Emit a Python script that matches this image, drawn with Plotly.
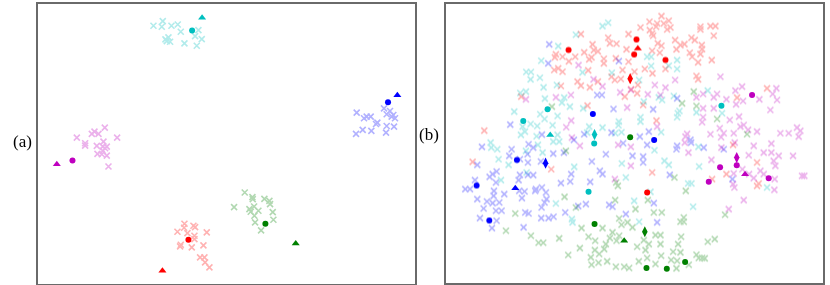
import plotly.graph_objects as go

# ---------------- Panel (a) data (embedding units) ----------------
a_cyan_x = [460, 488, 485, 514, 533, 542, 505, 500, 510, 553, 590, 595, 585, 605, 496]
a_cyan_y = [77, 63, 80, 77, 73, 95, 112, 123, 125, 130, 137, 90, 108, 117, 118]
a_blue_x = [1070, 1092, 1100, 1112, 1132, 1068, 1088, 1114, 1152, 1170, 1160, 1180, 1175, 1185, 1160, 1182, 1158, 1128]
a_blue_y = [338, 355, 350, 350, 368, 402, 390, 393, 325, 333, 343, 345, 350, 355, 378, 380, 398, 372]
a_mag_x = [230, 255, 255, 275, 283, 295, 314, 351, 290, 310, 308, 320, 292, 308, 305, 320, 325, 315]
a_mag_y = [413, 430, 437, 402, 395, 402, 383, 413, 438, 425, 440, 440, 462, 453, 463, 467, 500, 445]
a_red_x = [553, 580, 585, 532, 562, 583, 583, 620, 542, 575, 610, 600, 613, 615, 628, 552, 540]
a_red_y = [672, 678, 682, 696, 700, 708, 718, 698, 735, 743, 737, 773, 773, 788, 803, 684, 740]
a_green_x = [734, 757, 758, 702, 793, 808, 810, 818, 748, 762, 775, 763, 765, 783, 820, 752]
a_green_y = [578, 592, 598, 622, 597, 603, 613, 637, 628, 620, 633, 648, 668, 692, 660, 636]

# circles and triangles per class, order: red, green, blue, cyan, magenta
a_circ_x = [565, 796, 1164, 576, 217]
a_circ_y = [720, 672, 307, 91, 482]
a_tri_x = [487, 887, 1192, 606, 170]
a_tri_y = [813, 731, 286, 53, 493]

# ---------------- Panel (b) data ----------------
b_red_x = [755, 719, 742, 739, 762, 777, 782, 772, 720, 727, 730, 692, 872, 872, 902, 917, 912, 796, 845, 855,
           812, 824, 800, 876, 877, 744, 755, 727, 750, 840, 847, 872, 906, 865, 705, 728, 767, 674, 860, 865,
           684, 682, 1072, 982, 700, 740,
           513, 595, 656, 600, 620, 548, 552, 523, 564, 438, 435, 458, 496, 477, 538, 545, 582, 582, 618, 650,
           656, 433, 445, 458, 535, 605, 615, 633, 638, 503, 513, 540, 564, 453, 664, 645, 334, 533, 223,
           188, 424, 970, 727, 907, 950, 1042, 1042, 1047]
b_red_y = [48, 65, 70, 80, 70, 62, 82, 88, 90, 100, 107, 82, 80, 88, 78, 78, 107, 120, 113, 120,
           135, 132, 148, 135, 147, 130, 137, 152, 158, 158, 170, 162, 180, 187, 207, 220, 207, 215, 228, 238,
           255, 280, 265, 293, 315, 362,
           102, 113, 102, 130, 131, 133, 150, 157, 154, 163, 172, 170, 170, 184, 178, 172, 176, 190, 175, 148,
           185, 210, 205, 215, 211, 230, 240, 237, 210, 245, 257, 262, 245, 258, 268, 290, 290, 317, 392,
           486, 508, 435, 518, 538, 523, 488, 558, 551]

b_cyan_x = [712, 724, 724, 777, 802, 802, 688, 702, 747, 757, 792, 804, 809, 802, 692, 692, 894, 860, 937, 754,
            578, 595, 498, 445, 394, 349, 363, 362, 390, 518, 606, 401, 441, 331, 348, 405, 463, 456, 480, 520,
            313, 391, 404, 443, 362, 382, 338, 428, 538, 578, 627, 626, 635, 616, 532, 345, 380, 443, 333,
            242, 244, 262, 266, 296, 348, 350, 384, 398, 273, 438, 486, 488, 493, 636, 648, 673, 430, 448,
            734, 764, 777, 866, 868, 835, 845, 722, 850, 688, 1072]
b_cyan_y = [170, 170, 198, 197, 180, 207, 240, 305, 292, 300, 288, 340, 333, 352, 352, 365, 272, 337, 340, 397,
            78, 68, 104, 138, 182, 216, 216, 238, 233, 217, 218, 262, 255, 279, 275, 296, 293, 308, 320, 325,
            335, 343, 357, 348, 372, 378, 380, 376, 380, 383, 365, 376, 397, 400, 398, 395, 409, 405, 405,
            428, 443, 448, 478, 495, 453, 518, 435, 458, 541, 611, 658, 668, 501, 491, 533, 603, 425, 425,
            451, 483, 495, 441, 500, 551, 551, 576, 621, 666, 563]

b_blue_x = [730, 802, 717, 842,
            418, 415, 627, 562, 576, 611, 301, 396, 523, 492,
            216, 305, 298, 356, 353, 330, 370, 430, 462, 354, 393, 202, 260, 248, 195, 166, 180, 239, 258, 283,
            252, 251, 231, 248, 268, 202, 221, 258, 275, 210, 260, 246, 330, 354, 370, 326, 328, 344, 336, 378,
            376, 396, 408, 410, 404, 395, 346, 356, 394, 416, 431, 341, 453, 484, 481, 466, 505, 528, 541, 546,
            570, 578, 588, 598, 608, 648,
            712, 700, 802, 800, 882, 942, 968, 780, 732, 742, 844,
            605, 690, 668, 700, 640]
b_blue_y = [328, 295, 395, 420,
            133, 190, 183, 285, 285, 327, 374, 404, 403, 420,
            441, 448, 468, 433, 463, 478, 443, 461, 458, 488, 485, 495, 515, 523, 541, 568, 568, 531, 548, 583,
            573, 588, 605, 610, 608, 598, 626, 633, 633, 655, 663, 685, 525, 525, 526, 541, 573, 575, 595, 568,
            573, 563, 578, 598, 608, 623, 638, 641, 655, 655, 651, 683, 550, 523, 545, 638, 619, 613, 546, 485,
            513, 523, 463, 615, 621, 643,
            435, 488, 438, 448, 443, 448, 538, 525, 610, 668, 428,
            398, 410, 468, 470, 430]

b_mag_x = [796, 932, 735, 767, 714, 752, 880, 860, 912, 922, 950, 977, 997, 1100, 1089, 1102, 1049, 1000, 979, 912,
           880, 880, 877, 960, 988, 1082, 742, 930, 992, 1002, 1015, 972, 942, 934, 902, 832, 827, 1042, 1112,
           1137, 1162, 1172, 1167,
           506, 551, 578, 631, 663, 438, 483, 348, 652, 484, 469, 486,
           510, 625, 663, 615, 663,
           825, 836, 905, 935, 975, 1032, 1017, 1062, 1085, 1107, 1092, 1097, 1150, 1085, 972, 998, 1018, 1032,
           1052, 1062, 1095, 1094, 970, 974, 1002, 957, 1177, 1184]
b_mag_y = [240, 230, 255, 263, 283, 285, 282, 292, 292, 282, 298, 272, 260, 265, 282, 300, 298, 303, 313, 325,
           325, 352, 367, 360, 350, 330, 380, 385, 380, 375, 390, 400, 400, 412, 403, 402, 410, 395, 400,
           400, 383, 393, 410,
           195, 238, 259, 277, 270, 292, 285, 298, 323, 362, 382, 413,
           438, 435, 498, 538, 441,
           428, 458, 480, 443, 428, 438, 466, 458, 458, 468, 483, 498, 468, 431, 521, 508, 523, 535,
           513, 523, 538, 570, 553, 563, 601, 628, 528, 528]

b_green_x = [852, 817, 860, 922, 1012, 426,
             468, 316, 288, 363, 386, 400, 448, 464, 498, 515, 510, 475, 543, 545, 566, 568, 578, 583, 588, 556,
             555, 536, 600, 608, 620, 628, 635, 653, 668, 628, 616, 619, 624, 618, 643, 658, 592,
             794, 828, 714, 677, 732, 756, 822, 812, 822, 946, 894, 915, 814, 805, 737, 752, 702, 717, 752, 682,
             707, 812, 790, 754, 712, 687, 784, 802, 737, 800, 860, 867, 877, 885, 837]
b_green_y = [275, 310, 318, 357, 403, 320,
             453, 641, 693, 708, 729, 729, 716, 591, 623, 685, 745, 766, 773, 795, 789, 763, 685, 748, 733, 723,
             751, 711, 715, 698, 723, 708, 675, 668, 683, 656, 601, 548, 558, 801, 801, 805, 785,
             533, 573, 601, 628, 638, 638, 653, 666, 666, 645, 726, 718, 711, 733, 706, 706, 721, 733, 733, 741,
             751, 758, 756, 768, 775, 785, 781, 783, 793, 806, 765, 775, 775, 776, 795]

# class prototypes in (b)
b_red_circ_x = [476, 680, 673, 767, 712]
b_red_circ_y = [150, 118, 163, 180, 578]
b_green_circ_x = [661, 554, 710, 771, 826]
b_green_circ_y = [412, 673, 805, 807, 787]
b_blue_circ_x = [549, 733, 321, 200, 238]
b_blue_circ_y = [342, 420, 480, 557, 662]
b_cyan_circ_x = [413, 340, 553, 536, 935]
b_cyan_circ_y = [328, 363, 431, 576, 317]
b_mag_circ_x = [1027, 931, 897, 981, 1077]
b_mag_circ_y = [285, 502, 546, 496, 535]

# triangles and diamonds, order: red, green, blue, cyan, magenta
b_tri_x = [684, 643, 316, 421, 1006]
b_tri_y = [145, 723, 565, 405, 523]
b_dia_x = [661, 705, 407, 554, 981]
b_dia_y = [236, 696, 490, 404, 473]

# ---------------- styling ----------------
COL = {"red": "rgb(255,0,0)", "green": "rgb(0,128,0)", "blue": "rgb(0,0,255)",
       "cyan": "rgb(0,191,191)", "mag": "rgb(191,0,191)"}
ORDER = ["red", "green", "blue", "cyan", "mag"]

fig = go.Figure()


def add_x(xs, ys, col, ax):
    fig.add_trace(go.Scatter(
        x=xs, y=ys, mode="markers", xaxis="x" + ax, yaxis="y" + ax, opacity=0.3,
        marker=dict(symbol="x-thin", size=6, line=dict(color=col, width=1.6)),
        showlegend=False, hoverinfo="skip"))


def add_sym(xs, ys, cols, sym, size, ax):
    fig.add_trace(go.Scatter(
        x=xs, y=ys, mode="markers", xaxis="x" + ax, yaxis="y" + ax,
        marker=dict(symbol=sym, size=size, color=cols, line=dict(width=0)),
        showlegend=False, hoverinfo="skip"))


# panel (a)
add_x(a_red_x, a_red_y, COL["red"], "")
add_x(a_green_x, a_green_y, COL["green"], "")
add_x(a_blue_x, a_blue_y, COL["blue"], "")
add_x(a_cyan_x, a_cyan_y, COL["cyan"], "")
add_x(a_mag_x, a_mag_y, COL["mag"], "")
cols5 = [COL[c] for c in ORDER]
add_sym(a_circ_x, a_circ_y, cols5, "circle", 6, "")
add_sym(a_tri_x, a_tri_y, cols5, "triangle-up", 7, "")

# panel (b)
add_x(b_red_x, b_red_y, COL["red"], "2")
add_x(b_cyan_x, b_cyan_y, COL["cyan"], "2")
add_x(b_blue_x, b_blue_y, COL["blue"], "2")
add_x(b_mag_x, b_mag_y, COL["mag"], "2")
add_x(b_green_x, b_green_y, COL["green"], "2")
for name, cx, cy in [("red", b_red_circ_x, b_red_circ_y), ("green", b_green_circ_x, b_green_circ_y),
                     ("blue", b_blue_circ_x, b_blue_circ_y), ("cyan", b_cyan_circ_x, b_cyan_circ_y),
                     ("mag", b_mag_circ_x, b_mag_circ_y)]:
    add_sym(cx, cy, COL[name], "circle", 6, "2")
add_sym(b_tri_x, b_tri_y, cols5, "triangle-up", 7, "2")
add_sym(b_dia_x, b_dia_y, cols5, "diamond-tall", 8, "2")

W, H = 830, 285
ax_common = dict(showgrid=False, zeroline=False, showticklabels=False, showline=True, mirror=True,
                 linecolor="#6a6a6a", linewidth=1.5)

fig.update_layout(
    width=W, height=H, margin=dict(l=0, r=0, t=0, b=0),
    paper_bgcolor="white", plot_bgcolor="white",
    xaxis=dict(domain=[37.5 / W, 415 / W], range=[112, 1245], ticks="", **ax_common),
    yaxis=dict(domain=[1 - 284 / H, 1 - 3.5 / H], range=[853, 10], ticks="", **ax_common),
    xaxis2=dict(domain=[446 / W, 823 / W], range=[108, 1240], anchor="y2", ticks="outside",
                ticklen=3, tickcolor="#6a6a6a", tick0=123, dtick=180, **ax_common),
    yaxis2=dict(domain=[1 - 283 / H, 1 - 3.5 / H], range=[850, 10], anchor="x2", ticks="", **ax_common),
    annotations=[
        dict(text="(a)", x=22 / W, y=1 - 141 / H, xref="paper", yref="paper", showarrow=False,
             xanchor="center", yanchor="middle",
             font=dict(family="Liberation Serif, Times New Roman, serif", size=17, color="black")),
        dict(text="(b)", x=429 / W, y=1 - 135 / H, xref="paper", yref="paper", showarrow=False,
             xanchor="center", yanchor="middle",
             font=dict(family="Liberation Serif, Times New Roman, serif", size=17, color="black")),
    ],
)

fig.write_html("out.html", config={"displayModeBar": False},
               post_script="document.body.style.margin='0';document.body.style.padding='0';")
